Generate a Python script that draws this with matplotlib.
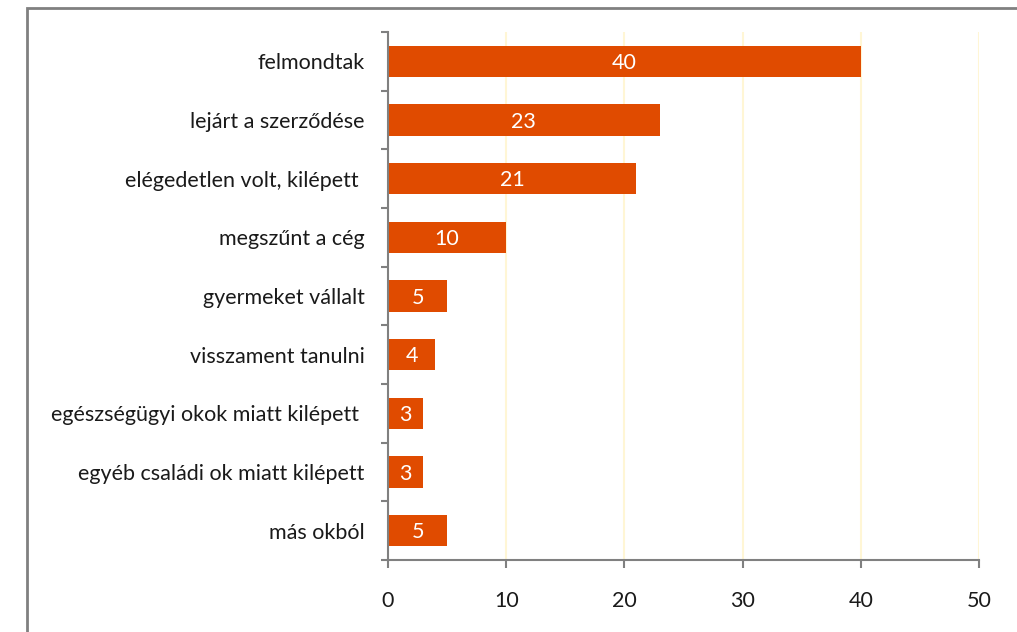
import matplotlib
matplotlib.use("Agg")
import matplotlib.pyplot as plt
from matplotlib.patches import Rectangle

categories = ["felmondtak", "lejárt a szerződése", "elégedetlen volt, kilépett ",
              "megszűnt a cég", "gyermeket vállalt", "visszament tanulni",
              "egészségügyi okok miatt kilépett ", "egyéb családi ok miatt kilépett",
              "más okból"]
values = [40, 23, 21, 10, 5, 4, 3, 3, 5]
xticks = [0, 10, 20, 30, 40, 50]

plt.rcParams['font.family'] = ['Lato', 'DejaVu Sans']
fig = plt.figure(figsize=(10.17, 6.32), dpi=100)
W, H = 1017, 632
ax = fig.add_axes([388 / W, 1 - 560 / H, (979 - 388) / W, (560 - 32) / H])

bar_color = '#E04B00'
fs = 15.5
n = len(categories)
ypos = list(range(n))[::-1]
bars = ax.barh(ypos, values, height=0.53, color=bar_color, zorder=3)
for y, v in zip(ypos, values):
    ax.text(v / 2, y - 0.03, str(v), ha='center', va='center', color='white', fontsize=fs, zorder=4)

ax.set_xlim(0, 50)
ax.set_ylim(-0.5, n - 0.5)
ax.set_xticks(xticks)
ax.set_xticklabels([str(t) for t in xticks], fontsize=fs, color='#1a1a1a')
ax.set_yticks(ypos)
ax.set_yticklabels(categories, fontsize=fs, color='#1a1a1a')
ax.set_yticks([i - 0.5 for i in range(n + 1)], minor=True)
ax.tick_params(axis='y', which='major', length=0, pad=17)
ax.tick_params(axis='y', which='minor', length=5, width=1.5, color='#808080')
ax.tick_params(axis='x', length=6, width=1.5, color='#808080', pad=16)
ax.xaxis.grid(True, color='#FFF6D5', linewidth=1.5, zorder=0)
ax.set_axisbelow(True)
for s in ['top', 'right']:
    ax.spines[s].set_visible(False)
for s in ['left', 'bottom']:
    ax.spines[s].set_color('#808080')
    ax.spines[s].set_linewidth(1.5)
    ax.spines[s].set_zorder(5)

fig.patches.append(Rectangle((26.5 / W, -0.1), 1.2, 1 - 7.5 / H + 0.1, transform=fig.transFigure,
                             fill=False, edgecolor='#808080', linewidth=2))

fig.savefig("out.png", dpi=100)
